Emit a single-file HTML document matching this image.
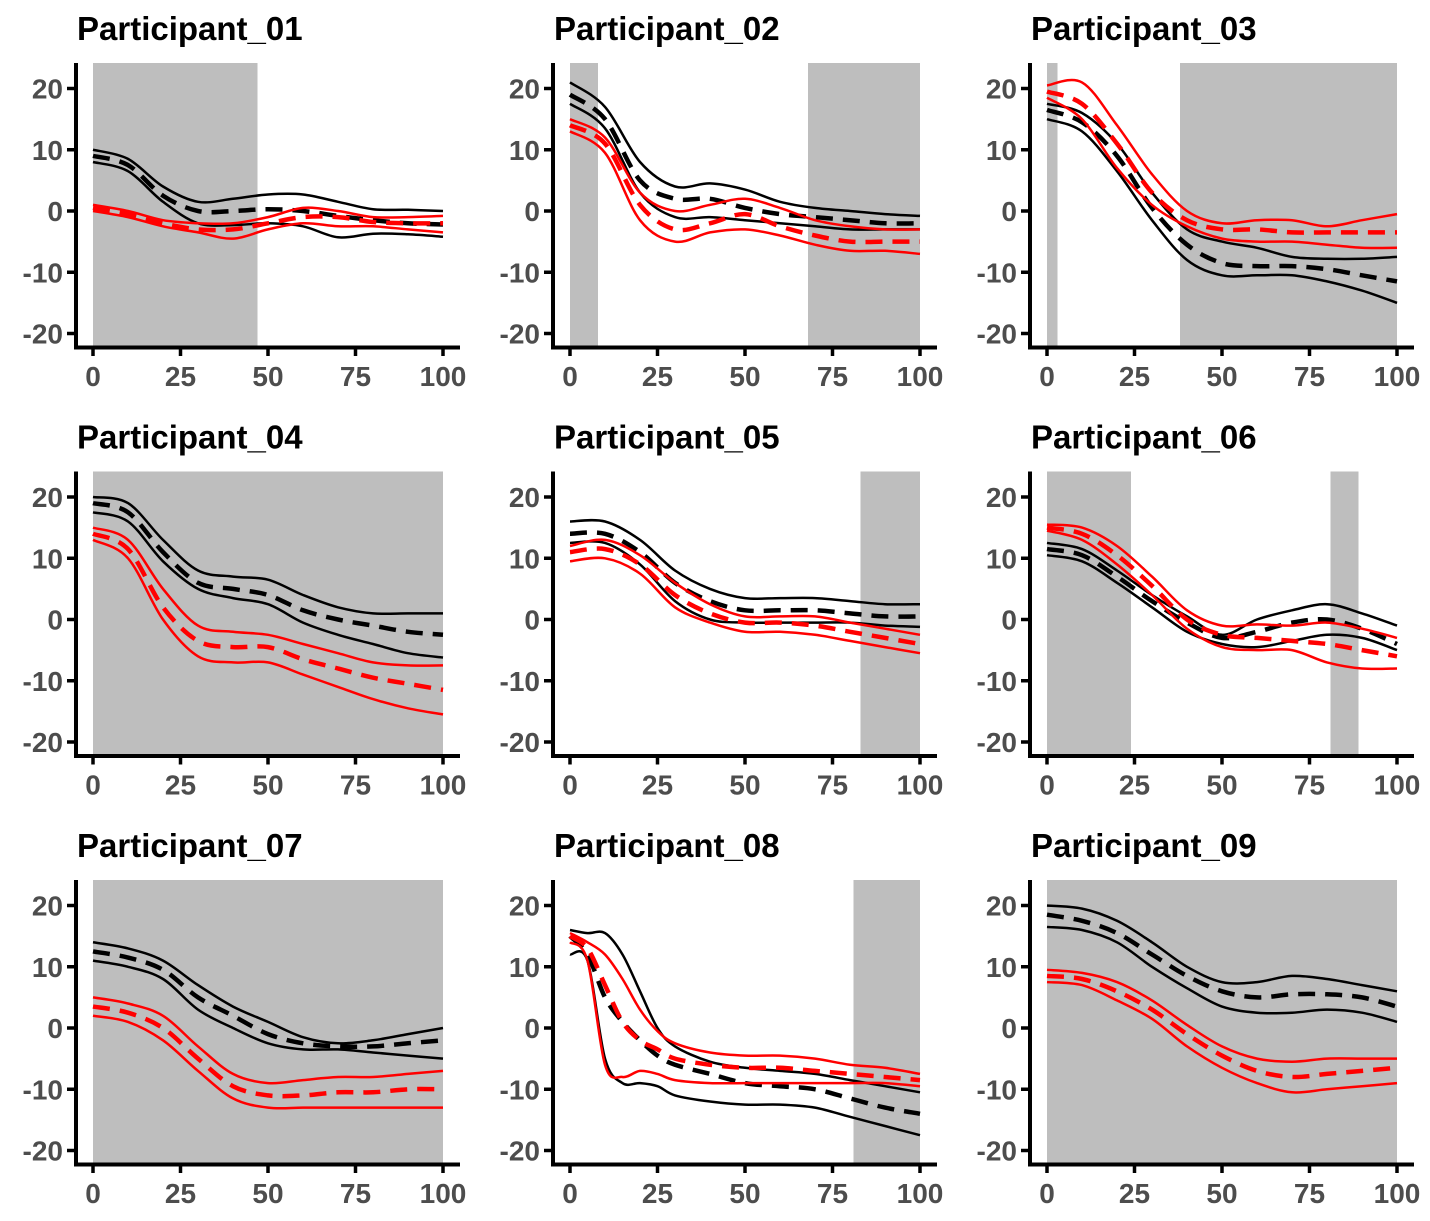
<!DOCTYPE html>
<html><head><meta charset="utf-8"><style>
html,body{margin:0;padding:0;background:#fff;}
svg{display:block;font-family:"Liberation Sans",Arial,sans-serif;}
</style></head><body>
<svg id="chart" width="1430" height="1221" viewBox="0 0 1430 1221"></svg>
<script>
const titles=["Participant_01","Participant_02","Participant_03","Participant_04","Participant_05","Participant_06","Participant_07","Participant_08","Participant_09"];
const xTicks=[0,25,50,75,100];
const yTicks=[20,10,0,-10,-20];
const xsDefault=[0,10,20,30,40,50,60,70,80,90,100];
const xsP8=[0,5,10,15,20,25,30,40,50,60,70,80,90,100];
const shades=[[[0,47]],[[0,8],[68,100]],[[0,3],[38,100]],[[0,100]],[[83,100]],[[0,24],[81,89]],[[0,100]],[[81,100]],[[0,100]]];
const blackUpper=[
[10,8.5,4,1.5,2,2.7,2.7,1.5,0.3,0.2,0],
[21,17,8,4,4.5,3.5,1.5,0.5,0,-0.5,-0.8],
[17.5,16,11,3,-3,-5,-6,-7.5,-7.8,-7.8,-7.5],
[20,19,13,8,7,6.5,4,2,1,1,1],
[16,16,13,8,5,3.5,3.5,3.5,3,2.5,2.5],
[12.5,11.5,8,4,0.5,-2.5,0,1.5,2.5,1,-1],
[14,13,11,7,3.5,1,-1.5,-2.5,-2,-1,0],
[16,15.5,15.5,12,6,0,-3,-5.5,-6.5,-7,-7.5,-8.5,-9.5,-10.5],
[20,19.5,17.5,14,10,7.5,7.5,8.5,8,7,6]];
const blackMean=[
[9,7.5,2.5,0,0,0.3,0,-0.8,-1.5,-2,-2.2],
[19,15,5,2,2,0.5,-0.5,-1,-1.5,-2,-2],
[16.5,14.5,9,0.5,-5.5,-8.5,-9,-9,-9.5,-10.5,-11.5],
[19,17.5,11,6,5,4,1.5,0,-1,-2,-2.5],
[14,14,11,6,3,1.5,1.5,1.5,1,0.5,0.5],
[11.5,10.5,7,3,-0.5,-3,-2,-0.5,0,-1.5,-4],
[12.5,11.5,9.5,5,2,-1,-2.5,-3,-3,-2.5,-2],
[15,12,5,1,-2,-4.5,-6,-7.5,-9,-9.5,-10,-11.5,-13,-14],
[18.5,17.5,15.5,12,8.5,6,5,5.5,5.5,5,3.5]];
const blackLower=[
[8,6.5,1.5,-2,-2.3,-2,-2.5,-4.3,-3.7,-3.8,-4.2],
[17.5,13.5,3,-1,-1,-1.5,-2,-2.5,-3,-3,-3],
[15,13,6.5,-1.5,-8,-10.5,-10.5,-10.5,-11.5,-13,-15],
[17.5,16,9.5,5,3.5,2.5,-0.5,-2.5,-4,-5.5,-6.2],
[12.5,12.5,9,3,0,-0.5,-0.5,-0.5,-0.5,-1,-1.2],
[10.5,9.5,6,2,-2,-4,-4.5,-3.5,-2.5,-3,-5],
[11,10,8,3,0,-2.5,-3.5,-3.5,-4,-4.5,-5],
[12,11,-5,-9,-9,-9.5,-11,-12,-12.5,-12.5,-13,-14.5,-16,-17.5],
[16.5,16,14,10,6.5,3.5,2.5,2.5,3,2.5,1]];
const redUpper=[
[1,0,-1.5,-2,-2,-1,0.5,0,-1,-1,-0.8],
[15,12,3,0,1,2,0.5,-1.5,-2.5,-3,-3],
[20.5,21,14,6,0,-2,-1.5,-1.5,-2.5,-1.5,-0.5],
[15,13,5,-1,-2,-2.5,-4,-5.5,-7,-7.5,-7.5],
[12,13,10.5,6,2.5,0.5,0.5,0.5,-0.5,-1.5,-2.5],
[15.5,15,12,7,1.5,-1,-0.8,-1,-0.5,-1.5,-3],
[5,4,2,-3,-7.5,-9,-8.5,-8,-8,-7.5,-7],
[15.5,14,12,8,3,-0.5,-2.5,-4,-4.5,-4.5,-5,-6,-6.5,-7.5],
[9.5,9,7.5,4.5,0.5,-3,-5,-5.5,-5,-5,-5]];
const redMean=[
[0.5,-0.5,-2,-3,-3,-2,-1,-1,-1.8,-2,-2],
[14,11,1,-3,-2,-0.5,-2.5,-4,-5,-5,-5],
[19.5,17.5,11,3,-1.5,-3,-3,-3.5,-3.5,-3.5,-3.5],
[14,11.5,2,-3.5,-4.5,-4.5,-6.5,-8,-9.5,-10.5,-11.5],
[11,11.5,9,4,1,-0.5,-0.5,-1,-2,-3,-4],
[15,14,10.5,5.5,0,-2.5,-3,-3.5,-4,-5,-6],
[3.5,2.5,0,-5,-9.5,-11,-11,-10.5,-10.5,-10,-10],
[15,13,7,1,-2,-3.5,-5,-6,-6.5,-6.5,-7,-7.5,-8,-8.5],
[8.5,8,6,3,-1,-4.5,-7,-8,-7.5,-7,-6.5]];
const redLower=[
[0,-1,-2.5,-3.5,-4.5,-3,-2,-2.5,-2.5,-3,-3.5],
[13,9.5,-1.5,-5,-3.5,-3,-4,-5.5,-6.5,-6.5,-7],
[18.5,15,7,1,-2.5,-4.5,-5,-5,-5.5,-6,-6],
[13,10,0,-6,-7,-7,-9,-11,-13,-14.5,-15.5],
[9.5,10,7.5,2,-0.5,-2,-2,-2.5,-3.5,-4.5,-5.5],
[14.5,13,9,4,-1.5,-4.5,-5,-5,-7,-8,-8],
[2,1,-2,-7,-11.5,-13,-13,-13,-13,-13,-13],
[14,11,-6,-8,-7,-7.5,-8.5,-9,-9,-9,-9,-9,-9,-9.5],
[7.5,7,4.5,1.5,-3,-6.5,-9,-10.5,-10,-9.5,-9]];

const NS="http://www.w3.org/2000/svg";
const svg=document.getElementById('chart');
function mk(tag,attrs,parent){const e=document.createElementNS(NS,tag);for(const k in attrs)e.setAttribute(k,attrs[k]);(parent||svg).appendChild(e);return e;}
function smooth(pts){let d=`M${pts[0][0]},${pts[0][1]}`;for(let i=0;i<pts.length-1;i++){const p0=pts[Math.max(0,i-1)],p1=pts[i],p2=pts[i+1],p3=pts[Math.min(pts.length-1,i+2)];
const c1x=p1[0]+(p2[0]-p0[0])/6,c1y=p1[1]+(p2[1]-p0[1])/6,c2x=p2[0]-(p3[0]-p1[0])/6,c2y=p2[1]-(p3[1]-p1[1])/6;
d+=` C${c1x.toFixed(1)},${c1y.toFixed(1)} ${c2x.toFixed(1)},${c2y.toFixed(1)} ${p2[0].toFixed(1)},${p2[1].toFixed(1)}`;}return d;}

for(let p=0;p<9;p++){
  const col=p%3,row=Math.floor(p/3);
  const ox=col*477,oy=row*408.5;
  const X=v=>93+3.5*v+ox, Y=v=>211-6.125*v+oy;
  const g=mk('g',{});
  
  
  const xs=(p===7)?xsP8:xsDefault;
  shades[p].forEach(s=>{const r=mk('rect',{x:X(s[0]),y:63+oy,width:X(s[1])-X(s[0]),height:284,fill:'#bebebe'},g);
    });
  const series=[[blackUpper,'#000',false,'black-upper'],[blackLower,'#000',false,'black-lower'],[blackMean,'#000',true,'black-mean'],
                [redUpper,'#f00',false,'red-upper'],[redLower,'#f00',false,'red-lower'],[redMean,'#f00',true,'red-mean']];
  series.forEach(s=>{const pts=s[0][p].map((v,i)=>[X(xs[i]),Y(v)]);
    const a={d:smooth(pts),fill:'none',stroke:s[1],'stroke-width':s[2]?4.5:2.5};if(s[2])a['stroke-dasharray']='17,10';
    const e=mk('path',a,g);});
  const ya=mk('line',{x1:76+ox,y1:63+oy,x2:76+ox,y2:349.5+oy,stroke:'#000','stroke-width':4},g);
  
  const xa=mk('line',{x1:74+ox,y1:347.5+oy,x2:460+ox,y2:347.5+oy,stroke:'#000','stroke-width':4},g);
  
  yTicks.forEach(v=>{mk('line',{x1:67+ox,x2:76+ox,y1:Y(v),y2:Y(v),stroke:'#000','stroke-width':3.5},g);
    const t=mk('text',{x:63+ox,y:Y(v)+10,'text-anchor':'end','font-size':28,'font-weight':'bold',fill:'#4d4d4d'},g);t.textContent=v;
    });
  xTicks.forEach(v=>{mk('line',{x1:X(v),x2:X(v),y1:347+oy,y2:356+oy,stroke:'#000','stroke-width':3.5},g);
    const t=mk('text',{x:X(v),y:386+oy,'text-anchor':'middle','font-size':28,'font-weight':'bold',fill:'#4d4d4d'},g);t.textContent=v;
    });
  const tt=mk('text',{x:77+ox,y:40+oy,'font-size':33,'font-weight':'bold',fill:'#000'},g);tt.textContent=titles[p];
  
}
</script>
</body></html>
